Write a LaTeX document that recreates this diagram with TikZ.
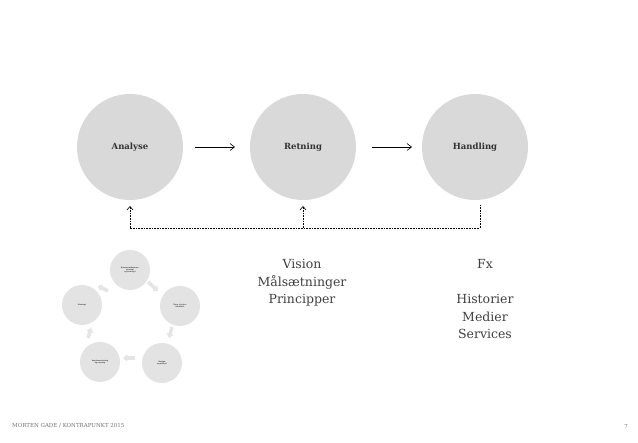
\documentclass[tikz,border=0pt]{standalone}
\usepackage{fontspec}
\setmainfont{DejaVu Serif}
\usetikzlibrary{arrows.meta}
\definecolor{bigfill}{HTML}{D9D9D9}
\definecolor{smallfill}{HTML}{E3E3E3}
\definecolor{txt}{HTML}{333333}
\definecolor{listcol}{HTML}{404040}
\tikzset{
  bigcircle/.style={circle, fill=bigfill, minimum size=106pt, inner sep=0pt, font=\bfseries\fontsize{8.5}{9}\selectfont, text=txt},
  smallcircle/.style={circle, fill=smallfill, minimum size=40pt, inner sep=0pt, font=\bfseries\fontsize{1.8}{2.2}\selectfont, align=center, text=black!80},
  flowarrow/.style={-{Straight Barb[length=4.5pt,width=7pt]}, line width=0.6pt, black},
  backline/.style={densely dotted, line width=0.6pt, black},
  backarrow/.style={densely dotted, line width=0.6pt, black, -{Straight Barb[length=3.5pt,width=6pt]}},
  cyclearrow/.style={-{Triangle[length=4pt,width=7pt]}, line width=3.5pt, color=black!10},
  listtext/.style={align=center, font=\fontsize{12.5}{17.5}\selectfont, text=listcol},
  foot/.style={font=\fontsize{5.5}{6}\selectfont, text=black!55, inner sep=0pt}
}
\begin{document}
\begin{tikzpicture}[x=1pt,y=-1pt]
\useasboundingbox (0,0) rectangle (638,443);
\fill[white] (0,0) rectangle (638,443);
% big circles
\node[bigcircle] (analyse) at (130,147) {Analyse};
\node[bigcircle] (retning) at (303,147) {Retning};
\node[bigcircle] (handling) at (475,147) {Handling};
\coordinate (a1) at (195,147); \coordinate (a2) at (235,147);
\coordinate (b1) at (372,147); \coordinate (b2) at (412,147);
\draw[flowarrow] (a1) -- (a2);
\draw[flowarrow] (b1) -- (b2);
% feedback
\coordinate (hs) at (480,205);
\coordinate (hc) at (480,228);
\coordinate (ac) at (130,228);
\coordinate (at) at (130,206);
\coordinate (rc) at (303,228);
\coordinate (rt) at (303,206);
\draw[backline] (hs) -- (hc) -- (ac);
\draw[backarrow] (ac) -- (at);
\draw[backarrow] (rc) -- (rt);
% texts
\node[listtext, anchor=north] (vision) at (302,256) {Vision\\Målsætninger\\Principper};
\node[listtext, anchor=north] (fx) at (485,256) {Fx\\[17.5pt]Historier\\Medier\\Services};
% small cycle
\node[smallcircle] (c1) at (130,270) {Kommunikations-\\strategi\\og koncept};
\node[smallcircle] (c2) at (180,306) {Tone of voice\\Identitet};
\node[smallcircle] (c3) at (162,363) {Design\\og udtryk};
\node[smallcircle] (c4) at (100,362) {Implementering\\og styring};
\node[smallcircle] (c5) at (82,305) {Strategi};
\draw[cyclearrow] (148,282) -- (158,291);
\draw[cyclearrow] (172,327) -- (169,338);
\draw[cyclearrow] (135,358) -- (123,358);
\draw[cyclearrow] (88,338) -- (91,328);
\draw[cyclearrow] (108,291) -- (98,286);
% footer
\node[foot, anchor=west] (footl) at (12,426) {MORTEN GADE / KONTRAPUNKT 2015};
\node[foot, anchor=east] (footr) at (628,426) {7};
\end{tikzpicture}
\end{document}
